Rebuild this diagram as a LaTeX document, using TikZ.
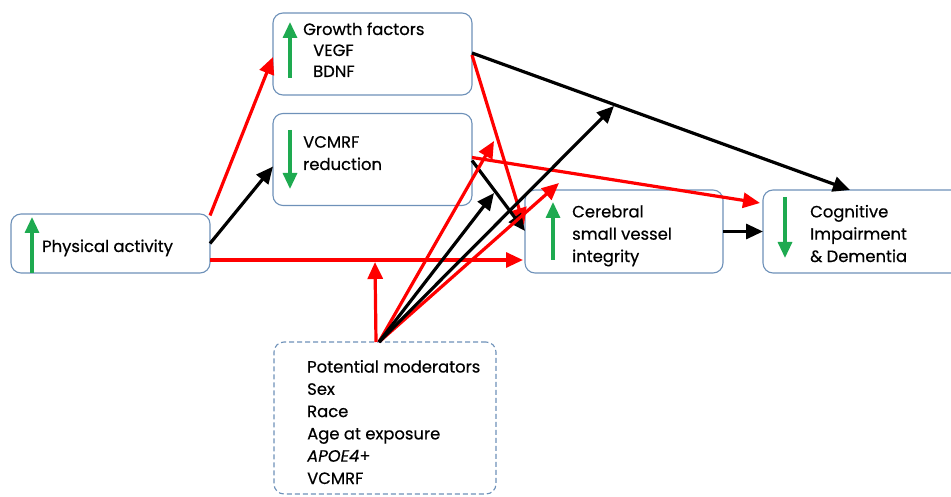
\documentclass[tikz,border=0pt]{standalone}
\usepackage{fontspec}
\setmainfont{Poppins}[UprightFeatures={FakeBold=0.5},ItalicFeatures={FakeBold=0.5}]
\usetikzlibrary{arrows.meta,calc}
\definecolor{boxline}{RGB}{110,145,185}
\definecolor{upgreen}{RGB}{30,170,80}
\definecolor{linkred}{RGB}{255,0,0}

\begin{document}
\begin{tikzpicture}[x=1pt,y=-1pt,
  box/.style={draw=boxline, line width=1.1pt, rounded corners=10pt, fill=white,
              inner sep=0pt, outer sep=0pt},
  % multi-line labels are anchored at the baseline of their last line
  lbl/.style={anchor=base west, align=left, inner sep=0pt,
              font=\fontsize{16.4}{22.3}\selectfont},
  link/.style={line width=3.2pt, -{Triangle[length=17pt,width=15pt]}},
  redlink/.style={link, draw=linkred, fill=linkred},
  blklink/.style={link, draw=black, fill=black},
  trend/.style={draw=upgreen, fill=upgreen, line width=3.2pt,
                -{Triangle[length=16pt,width=14pt]}},
]
\useasboundingbox (0,0) rectangle (951,497);
\clip (0,0) rectangle (951,497);

% boxes
\node[box, minimum width=199pt, minimum height=82pt] (growth) at (372.5,54) {};
\node[box, minimum width=199pt, minimum height=92pt] (vcmrf) at (372.5,159.5) {};
\node[box, minimum width=199pt, minimum height=59pt] (pa) at (110.5,243.5) {};
\node[box, minimum width=198pt, minimum height=83pt] (csv) at (624,231.5) {};
\node[box, minimum width=200pt, minimum height=83pt] (cog) at (863,231.5) {};
\node[box, dashed, dash pattern=on 5pt off 3pt, minimum width=222pt,
      minimum height=152pt] (mod) at (385,418) {};

% labels
\node[lbl, font=\fontsize{16.4}{21}\selectfont] (growthtxt) at (303,77)
  {Growth factors\\\hspace*{10pt}VEGF\\\hspace*{10pt}BDNF};
\node[lbl] (vcmrftxt) at (303,170) {VCMRF\\reduction};
\node[lbl] (patxt) at (42,252) {Physical activity};
\node[lbl] (csvtxt) at (572,262) {Cerebral\\small vessel\\integrity};
\node[lbl] (cogtxt) at (810,262) {Cognitive\\Impairment\\\& Dementia};
\node[lbl] (modtxt) at (307,484) {Potential moderators\\Sex\\Race\\Age at exposure\\\textit{APOE4}+\\VCMRF};

% trend arrows inside the boxes
\draw[trend] (290,78) -- (290,22);
\draw[trend] (290,130) -- (290,189);
\draw[trend] (32,273) -- (32,217);
\draw[trend] (553,260) -- (553,202);
\draw[trend] (785,197) -- (785,258);

% pathways
\draw[redlink] ($(pa.east)+(0,-28)$) -- ($(growth.west)+(0,3)$);
\draw[blklink] (pa.east) -- ($(vcmrf.west)+(0,7)$);
\draw[redlink] ($(pa.east)+(0,16.5)$) -- ($(csv.west)+(-2,28.5)$);
\draw[redlink] ($(growth.east)+(0,1)$) -- ($(csv.west)+(-1,-6.5)$);
\draw[blklink] ($(growth.east)+(0,-1)$) -- ($(cog.north)+(-13,0)$);
\draw[blklink] ($(vcmrf.east)+(0,1)$) -- ($(csv.west)+(0,-0.5)$);
\draw[redlink] ($(vcmrf.east)+(0,-2)$) -- ($(cog.west)+(-3,-28.5)$);
\draw[blklink] (csv.east) -- (cog.west);

% moderator effects on the pathways
\coordinate (modsrc) at ($(mod.north)+(-6,0)$);
\coordinate (onpa) at (375,262);
\coordinate (onvcmrf) at (494,141);
\coordinate (onvcsv) at (494,193);
\coordinate (ongrowth) at (614,106);
\coordinate (oncog) at (559,183);
\draw[redlink] ($(mod.north)+(-9,0)$) -- (onpa);
\draw[redlink] (modsrc) -- (onvcmrf);
\draw[redlink] (modsrc) -- (oncog);
\draw[blklink] (modsrc) -- (onvcsv);
\draw[blklink] (modsrc) -- (ongrowth);
\end{tikzpicture}
\end{document}
